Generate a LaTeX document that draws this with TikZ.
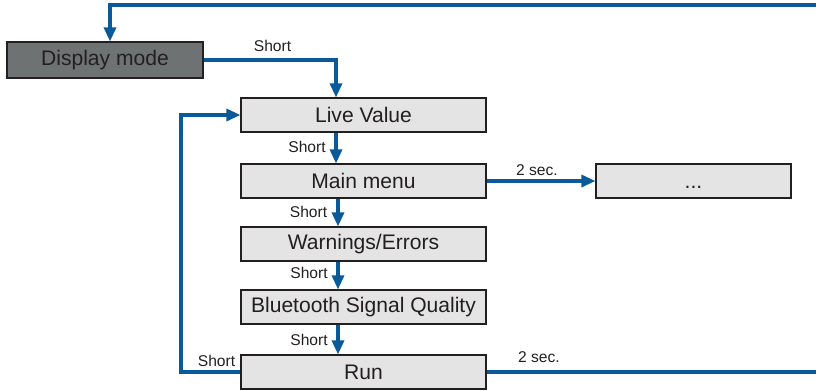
\documentclass[tikz,border=0pt]{standalone}
\usepackage{fontspec}
\setmainfont{Liberation Sans}
\usepackage{tikz}
\usetikzlibrary{arrows.meta,positioning}
\definecolor{flowblue}{HTML}{0A5A9A}
\definecolor{boxgray}{HTML}{E4E4E4}
\definecolor{darkgray}{HTML}{6E7272}
\definecolor{ink}{HTML}{231F20}

\begin{document}
\begin{tikzpicture}[x=0.75pt, y=-0.75pt,
        box/.style = {draw=ink, line width=0.9pt, fill=boxgray, text=ink, inner sep=0pt,
                      minimum width=183.75pt, minimum height=25.5pt,
                      font=\fontsize{15.8}{18}\selectfont},
        dispbox/.style = {box, fill=darkgray, minimum width=147pt, minimum height=27pt},
        lbl/.style = {text=ink, inner sep=0pt, font=\fontsize{11.7}{14}\selectfont},
        flow/.style = {draw=flowblue, line width=2.4pt,
                       -{Triangle[length=10.5pt, width=9pt]}},
        ]
        \useasboundingbox (0,0) rectangle (816,390);
        \clip (0,0) rectangle (816,390);

        \node[dispbox](disp) at (105,60) {Display mode};
        \node[box](live) at (363.5,115) {Live Value};
        \node[box](main) at (363.5,181) {Main menu};
        \node[box, minimum width=146.25pt](more) at (693.5,181) {\vphantom{L}...};
        \node[box](warn) at (363.5,244) {Warnings/Errors};
        \node[box](blue) at (363.5,307) {Bluetooth Signal Quality};
        \node[box](run) at (363.5,372) {Run};

        \coordinate (ax) at (336,0);
        \coordinate (bx) at (338,0);
        \coordinate (lx) at (181,0);
        \coordinate (tx) at (110,5);
        \coordinate (rx) at (830,5);

        \draw[flow] (disp.east) -| (ax |- live.north);
        \draw[flow] (ax |- live.south) -- (ax |- main.north);
        \draw[flow] (bx |- main.south) -- (bx |- warn.north);
        \draw[flow] (bx |- warn.south) -- (bx |- blue.north);
        \draw[flow] (bx |- blue.south) -- (bx |- run.north);
        \draw[flow] (main.east) -- (more.west);
        \draw[flow] (run.west) -- (lx |- run.west) -- (lx |- live.west) -- (live.west);
        \draw[flow] (run.east) -| (rx) -- (tx) -- (tx |- disp.north);

        \node[lbl](s0) at (272.5,46) {Short};
        \node[lbl](s1) at (307,147) {Short};
        \node[lbl](s2) at (308.5,212) {Short};
        \node[lbl](s3) at (309,273) {Short};
        \node[lbl](s4) at (309,340) {Short};
        \node[lbl](s5) at (216.5,361) {Short};
        \node[lbl](t1) at (537,170) {2 sec.};
        \node[lbl](t2) at (539,357) {2 sec.};
\end{tikzpicture}
\end{document}
